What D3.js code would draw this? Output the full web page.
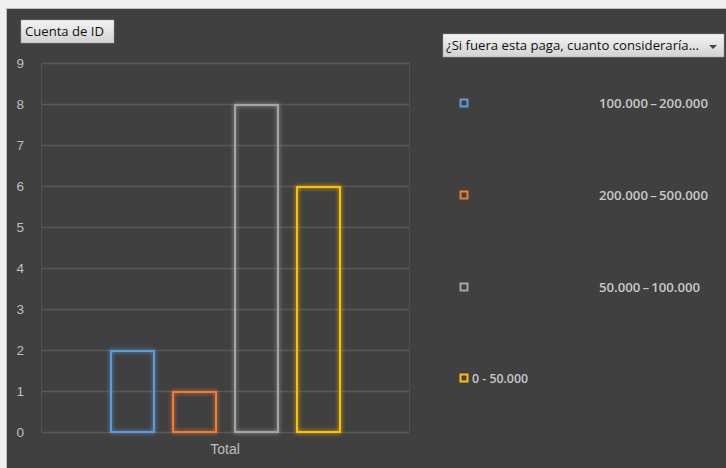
<!DOCTYPE html>
<html>
<head>
<meta charset="utf-8">
<script src="https://cdn.jsdelivr.net/npm/d3@7"></script>
<style>
  html, body { margin: 0; padding: 0; background: #f0f0f0; }
  svg { display: block; font-family: "Open Sans", "Noto Sans", sans-serif; }
</style>
</head>
<body>
<div id="chart"></div>
<script>
// datos
var categories = ['Total'];
var seriesNames = ['100.000\u2009\u2013\u2009200.000', '200.000\u2009\u2013\u2009500.000', '50.000\u2009\u2013\u2009100.000', '0 - 50.000'];
var seriesValues = [2, 1, 8, 6];
var seriesColors = ['#5b9bd5', '#ed7d31', '#a5a5a5', '#ffc000'];
var yTicks = [0, 1, 2, 3, 4, 5, 6, 7, 8, 9];

var W = 726, H = 468;
var margin = { top: 63, right: 317, bottom: 36, left: 41 };
var width = W - margin.left - margin.right,
    height = H - margin.top - margin.bottom;

var svg = d3.select('#chart').append('svg').attr('width', W).attr('height', H);

// filtro brillo
var defs = svg.append('defs');
var f = defs.append('filter').attr('id', 'glow').attr('x', '-30%').attr('y', '-30%').attr('width', '160%').attr('height', '160%');
f.append('feGaussianBlur').attr('in', 'SourceGraphic').attr('stdDeviation', 2.2).attr('result', 'b');
var fm = f.append('feMerge');
fm.append('feMergeNode').attr('in', 'b');
fm.append('feMergeNode').attr('in', 'SourceGraphic');

var grad = defs.append('linearGradient').attr('id', 'btn').attr('x1', 0).attr('y1', 0).attr('x2', 0).attr('y2', 1);
grad.append('stop').attr('offset', '0%').attr('stop-color', '#f4f4f4');
grad.append('stop').attr('offset', '100%').attr('stop-color', '#d2d2d2');

// fondo
svg.append('rect').attr('x', 6).attr('y', 8).attr('width', W - 6).attr('height', H - 8).attr('fill', '#bdbdbd');
svg.append('rect').attr('x', 7).attr('y', 9).attr('width', W - 7).attr('height', H - 9).attr('fill', '#404040');

var g = svg.append('g').attr('transform', `translate(${margin.left},${margin.top})`);

var y = d3.scaleLinear().domain([0, 9]).range([height, 0]);
var x = d3.scaleBand().domain(categories).range([0, width]);
var xs = d3.scaleBand().domain(seriesNames).range([x('Total') + 69, x('Total') + 69 + 231]).paddingInner(17 / 62).paddingOuter(0);

// rejilla
g.selectAll('line.grid').data(yTicks).enter().append('line')
  .attr('class', 'grid')
  .attr('x1', 0).attr('x2', width)
  .attr('y1', d => y(d) + 0.5).attr('y2', d => y(d) + 0.5)
  .attr('stroke', '#585858').attr('stroke-width', 1.5);
g.append('line').attr('x1', 0.5).attr('x2', 0.5).attr('y1', 0).attr('y2', height).attr('stroke', '#4f4f4f');
g.append('line').attr('x1', width + 0.5).attr('x2', width + 0.5).attr('y1', 0).attr('y2', height).attr('stroke', '#4f4f4f');

// eje Y
var yAxis = g.append('g').call(d3.axisLeft(y).tickValues(yTicks).tickSize(0).tickPadding(17));
yAxis.select('.domain').remove();
yAxis.selectAll('text').attr('fill', '#bfbfbf').attr('font-size', 13.5);

// eje X
var xAxis = g.append('g').attr('transform', `translate(0,${height})`)
  .call(d3.axisBottom(x).tickSize(0).tickPadding(12));
xAxis.select('.domain').remove();
xAxis.selectAll('text').attr('fill', '#bfbfbf').attr('font-size', 14).attr('dx', 0);

// barras
g.selectAll('rect.bar').data(seriesValues).enter().append('rect')
  .attr('class', 'bar')
  .attr('x', (d, i) => xs(seriesNames[i]) + 1)
  .attr('y', d => y(d) + 1)
  .attr('width', xs.bandwidth() - 2)
  .attr('height', d => y(0) - y(d) - 1)
  .attr('fill', 'none')
  .attr('stroke', (d, i) => seriesColors[i])
  .attr('stroke-width', 2)
  .attr('filter', 'url(#glow)');

// botón título
svg.append('rect').attr('x', 21).attr('y', 20).attr('width', 93).attr('height', 23)
  .attr('fill', 'url(#btn)').attr('stroke', '#a0a0a0').attr('stroke-width', 0.5);
svg.append('text').attr('x', 25).attr('y', 36).attr('font-size', 13).attr('fill', '#111')
  .attr('textLength', 79).attr('lengthAdjust', 'spacingAndGlyphs').text('Cuenta de ID');

// botón leyenda
svg.append('rect').attr('x', 443).attr('y', 34).attr('width', 281).attr('height', 23)
  .attr('fill', 'url(#btn)').attr('stroke', '#a0a0a0').attr('stroke-width', 0.5);
svg.append('text').attr('x', 446).attr('y', 50).attr('font-size', 12.5).attr('fill', '#111')
  .attr('textLength', 253).attr('lengthAdjust', 'spacingAndGlyphs')
  .text('¿Si fuera esta paga, cuanto consideraría...');
svg.append('path').attr('d', 'M709,45 L717,45 L713,49 Z').attr('fill', '#444');

// leyenda
var legY = [103, 195, 287, 378];
var leg = svg.selectAll('g.leg').data(seriesNames).enter().append('g')
  .attr('class', 'leg')
  .attr('transform', (d, i) => `translate(460,${legY[i]})`);
leg.append('rect').attr('x', 0.5).attr('y', -3.5).attr('width', 7).attr('height', 7)
  .attr('fill', 'none').attr('stroke', (d, i) => seriesColors[i]).attr('stroke-width', 2);
leg.append('text')
  .attr('x', (d, i) => i < 3 ? 139 : 12)
  .attr('y', 4.5)
  .attr('font-size', 12.5).attr('font-weight', 600).attr('fill', '#c8c8c8')
  .attr('textLength', (d, i) => i < 3 ? (i === 2 ? 101 : 109) : 56)
  .attr('lengthAdjust', 'spacingAndGlyphs')
  .text(d => d);
</script>
</body>
</html>
